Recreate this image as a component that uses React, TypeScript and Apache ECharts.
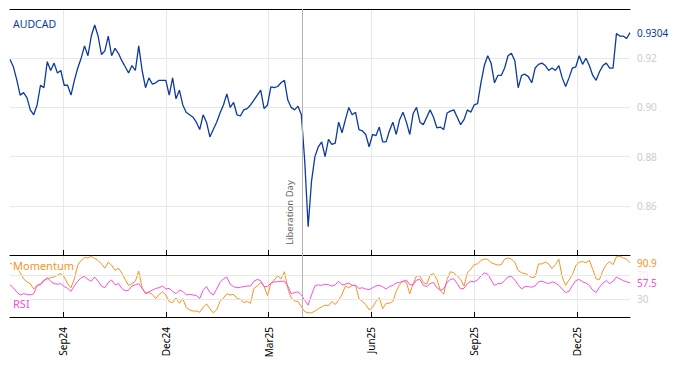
import React, { useEffect, useRef } from 'react';
import * as echarts from 'echarts';

const START = '2024-07-17';
const END = '2026-01-17';
const STEP_DAYS = 3;
const tickDates = ['2024-09-02', '2024-12-02', '2025-03-03', '2025-06-02', '2025-09-01', '2025-12-01'];
const tickLabels = ['Sep24', 'Dec24', 'Mar25', 'Jun25', 'Sep25', 'Dec25'];
const eventDate = '2025-04-02';
const eventLabel = 'Liberation Day';
const rsiGuides = [30, 70];

const audcad = [
  0.9195, 0.9165, 0.9112, 0.905, 0.906, 0.904, 0.899, 0.897, 0.901, 0.909,
  0.908, 0.9186, 0.915, 0.918, 0.914, 0.915, 0.909, 0.909, 0.905, 0.911,
  0.916, 0.92, 0.925, 0.921, 0.929, 0.9335, 0.929, 0.9215, 0.923, 0.929,
  0.921, 0.924, 0.922, 0.919, 0.9165, 0.914, 0.917, 0.915, 0.925, 0.915,
  0.908, 0.912, 0.9095, 0.91, 0.911, 0.911, 0.911, 0.905, 0.912, 0.9035,
  0.907, 0.901, 0.898, 0.897, 0.896, 0.894, 0.891, 0.897, 0.894, 0.888,
  0.891, 0.894, 0.8977, 0.901, 0.9055, 0.9, 0.902, 0.897, 0.8965, 0.899,
  0.8995, 0.901, 0.903, 0.905, 0.907, 0.8995, 0.901, 0.9083, 0.908, 0.9085,
  0.91, 0.911, 0.903, 0.9, 0.899, 0.9005, 0.897, 0.878, 0.8515, 0.87,
  0.88, 0.884, 0.886, 0.88, 0.887, 0.885, 0.8855, 0.894, 0.8897, 0.895,
  0.9, 0.897, 0.898, 0.891, 0.8905, 0.889, 0.884, 0.889, 0.8885, 0.892,
  0.886, 0.886, 0.8905, 0.894, 0.889, 0.895, 0.898, 0.894, 0.889, 0.8975,
  0.9, 0.894, 0.893, 0.896, 0.899, 0.896, 0.8917, 0.892, 0.891, 0.8977,
  0.8985, 0.899, 0.896, 0.893, 0.895, 0.899, 0.898, 0.901, 0.9015, 0.91,
  0.917, 0.921, 0.918, 0.91, 0.913, 0.913, 0.916, 0.921, 0.922, 0.919,
  0.908, 0.913, 0.9135, 0.9125, 0.91, 0.916, 0.9175, 0.918, 0.917, 0.915,
  0.916, 0.915, 0.917, 0.912, 0.9085, 0.912, 0.916, 0.9165, 0.921, 0.9175,
  0.92, 0.917, 0.913, 0.911, 0.9145, 0.917, 0.918, 0.916, 0.916, 0.93,
  0.929, 0.929, 0.928, 0.9304,
];

const momentum = [
  90, 88, 84, 74, 64, 59, 56, 47, 53, 56,
  62, 64, 66, 67, 70, 73, 67, 56, 49, 64,
  87, 95, 100, 99, 102, 98, 95, 89, 82, 92,
  87, 78, 82, 74, 63, 53, 56, 60, 77, 49,
  39, 41, 38, 31, 38, 42, 37, 26, 24, 32,
  23, 31, 16, 12, 10, 10, 8, 16, 22, 14,
  7, 12, 26, 32, 39, 37, 38, 31, 30, 24,
  26, 23, 48, 52, 58, 51, 36, 56, 62, 69,
  64, 76, 48, 32, 27, 26, 17, 9, 7, 7,
  10, 14, 17, 20, 19, 26, 21, 28, 38, 52,
  49, 53, 53, 31, 26, 21, 12, 16, 26, 32,
  14, 23, 23, 26, 43, 54, 60, 58, 39, 56,
  69, 69, 58, 55, 70, 73, 63, 45, 38, 63,
  76, 74, 69, 63, 52, 74, 80, 88, 89, 95,
  97, 97, 91, 89, 87, 88, 97, 99, 97, 92,
  78, 74, 73, 70, 66, 67, 89, 89, 92, 89,
  81, 88, 97, 67, 53, 62, 71, 86, 92, 93,
  91, 95, 80, 64, 63, 78, 88, 93, 88, 101,
  102, 99, 97, 90.9,
];

const rsi = [
  54, 49, 42, 37, 39, 38, 37, 39, 53, 54,
  60, 66, 60, 56, 55, 56, 51, 48, 43, 52,
  60, 66, 68, 63, 60, 67, 60, 52, 49, 58,
  62, 54, 56, 48, 44, 45, 52, 54, 56, 48,
  40, 42, 45, 48, 49, 52, 47, 48, 43, 39,
  45, 43, 37, 38, 37, 36, 31, 45, 51, 41,
  37, 47, 58, 64, 67, 55, 51, 49, 50, 51,
  52, 52, 60, 63, 61, 51, 51, 57, 59, 59,
  60, 60, 52, 39, 41, 42, 37, 28, 20, 37,
  52, 54, 53, 55, 54, 52, 54, 60, 54, 55,
  57, 53, 53, 48, 49, 47, 46, 49, 52, 53,
  51, 47, 51, 53, 57, 58, 60, 62, 54, 54,
  62, 63, 53, 51, 56, 58, 49, 45, 47, 58,
  63, 64, 56, 47, 48, 56, 60, 59, 62, 69,
  74, 72, 62, 53, 56, 56, 61, 67, 68, 62,
  54, 47, 51, 51, 50, 52, 59, 60, 58, 56,
  59, 57, 53, 47, 41, 43, 53, 61, 63, 59,
  57, 53, 45, 41, 50, 57, 61, 56, 60, 67,
  64, 61, 59, 57.5,
];

const BLUE = '#0d3a9e';
const ORANGE = '#f7931e';
const MAGENTA = '#f74ee0';
const FONT = 'Noto Sans';

function buildDays(start: string, end: string): string[] {
  const out: string[] = [];
  const d = new Date(start + 'T00:00:00Z');
  const e = new Date(end + 'T00:00:00Z');
  while (d.getTime() <= e.getTime()) {
    out.push(d.toISOString().slice(0, 10));
    d.setUTCDate(d.getUTCDate() + 1);
  }
  return out;
}

export default function App() {
  const ref = useRef<HTMLDivElement>(null);

  useEffect(() => {
    if (!ref.current) return;
    const chart = echarts.init(ref.current, null, { renderer: 'svg' });
    const days = buildDays(START, END);
    const tickSet = new Set(tickDates);
    const labelMap: Record<string, string> = {};
    tickDates.forEach((d, i) => (labelMap[d] = tickLabels[i]));
    const isTick = (_i: number, v: string) => tickSet.has(v);
    const toPairs = (arr: number[]) => arr.map((v, i) => [days[i * STEP_DAYS], v]);

    const gridLine = { color: '#e8e8e8', width: 1 };
    const baseX = {
      type: 'category',
      data: days,
      boundaryGap: false,
      axisLine: { show: true, lineStyle: { color: '#000', width: 1 } },
      axisTick: { show: true, inside: true, length: 5, interval: isTick, lineStyle: { color: '#000' } },
      splitLine: { show: true, interval: isTick, lineStyle: gridLine },
    };

    const option: any = {
      animation: false,
      grid: [
        { left: 10, right: 51, top: 9, height: 246 },
        { left: 10, right: 51, top: 255, height: 62 },
      ],
      xAxis: [
        { ...baseX, gridIndex: 0, axisLabel: { show: false, interval: isTick } },
        {
          ...baseX,
          gridIndex: 1,
          axisLabel: {
            show: true,
            interval: isTick,
            rotate: 90,
            margin: 10,
            color: '#000',
            fontSize: 10,
            fontFamily: FONT,
            formatter: (v: string) => labelMap[v] || '',
          },
        },
        {
          type: 'category',
          gridIndex: 0,
          position: 'top',
          data: days,
          boundaryGap: false,
          axisLine: { show: true, lineStyle: { color: '#000', width: 1 } },
          axisTick: { show: false },
          axisLabel: { show: false },
          splitLine: { show: false },
        },
      ],
      yAxis: [
        {
          type: 'value',
          gridIndex: 0,
          position: 'right',
          min: 0.84,
          max: 0.94,
          interval: 0.02,
          axisLine: { show: false },
          axisTick: { show: false },
          axisLabel: {
            color: '#cccccc',
            fontSize: 10,
            fontFamily: FONT,
            margin: 7,
            showMinLabel: false,
            showMaxLabel: false,
            formatter: (v: number) => v.toFixed(2),
          },
          splitLine: { show: true, lineStyle: gridLine },
        },
        {
          type: 'value',
          gridIndex: 1,
          position: 'right',
          min: 0,
          max: 104,
          axisLine: { show: false },
          axisTick: { show: false },
          axisLabel: { show: false },
          splitLine: { show: false },
        },
      ],
      series: [
        {
          name: 'AUDCAD',
          type: 'line',
          xAxisIndex: 0,
          yAxisIndex: 0,
          data: toPairs(audcad),
          symbol: 'none',
          lineStyle: { color: BLUE, width: 1.3 },
          itemStyle: { color: BLUE },
          endLabel: {
            show: true,
            distance: 7,
            color: BLUE,
            fontSize: 10,
            fontFamily: FONT,
            formatter: (p: any) => Number(p.value[1]).toFixed(4),
          },
          markLine: {
            silent: true,
            symbol: 'none',
            lineStyle: { color: '#b4b4b4', width: 1, type: 'solid' },
            label: {
              show: true,
              position: 'insideStartTop',
              formatter: eventLabel,
              color: '#666',
              fontSize: 9.5,
              fontFamily: FONT,
              distance: [10, 8],
            },
            data: [{ xAxis: eventDate }],
          },
        },
        {
          name: 'Momentum',
          type: 'line',
          xAxisIndex: 1,
          yAxisIndex: 1,
          data: toPairs(momentum),
          symbol: 'none',
          lineStyle: { color: ORANGE, width: 1 },
          itemStyle: { color: ORANGE },
          endLabel: {
            show: true,
            distance: 7,
            color: ORANGE,
            fontSize: 10,
            fontFamily: FONT,
            formatter: (p: any) => Number(p.value[1]).toFixed(1),
          },
          markLine: {
            silent: true,
            symbol: 'none',
            lineStyle: { color: '#e8e8e8', width: 1, type: 'solid' },
            label: { show: true, position: 'end', distance: 7, color: '#cccccc', fontSize: 10, fontFamily: FONT },
            data: [
              { yAxis: rsiGuides[0], label: { color: '#cccccc' } },
              { yAxis: rsiGuides[1], label: { color: '#efefef' } },
              { xAxis: eventDate, label: { show: false }, lineStyle: { color: '#b4b4b4' } },
            ],
          },
        },
        {
          name: 'RSI',
          type: 'line',
          xAxisIndex: 1,
          yAxisIndex: 1,
          data: toPairs(rsi),
          symbol: 'none',
          lineStyle: { color: MAGENTA, width: 1 },
          itemStyle: { color: MAGENTA },
          endLabel: {
            show: true,
            distance: 7,
            color: MAGENTA,
            fontSize: 10,
            fontFamily: FONT,
            formatter: (p: any) => Number(p.value[1]).toFixed(1),
          },
        },
      ],
      graphic: [
        {
          type: 'text',
          left: 13,
          top: 18,
          z: 100,
          style: { text: 'AUDCAD', fill: BLUE, font: `10.5px "${FONT}"` },
        },
        {
          type: 'text',
          left: 12,
          top: 260,
          z: 100,
          style: {
            text: 'Momentum',
            fill: ORANGE,
            font: `11px "${FONT}"`,
            backgroundColor: 'rgba(255,255,255,0.75)',
            padding: [0, 1],
          },
        },
        {
          type: 'text',
          left: 12,
          top: 298,
          z: 100,
          style: {
            text: 'RSI',
            fill: MAGENTA,
            font: `11px "${FONT}"`,
            backgroundColor: 'rgba(255,255,255,0.75)',
            padding: [0, 1],
          },
        },
      ],
    };

    chart.setOption(option);
    return () => chart.dispose();
  }, []);

  return (
    <div
      ref={ref}
      style={{ position: 'fixed', left: 0, top: 0, width: 681, height: 366, background: '#fff' }}
    />
  );
}
